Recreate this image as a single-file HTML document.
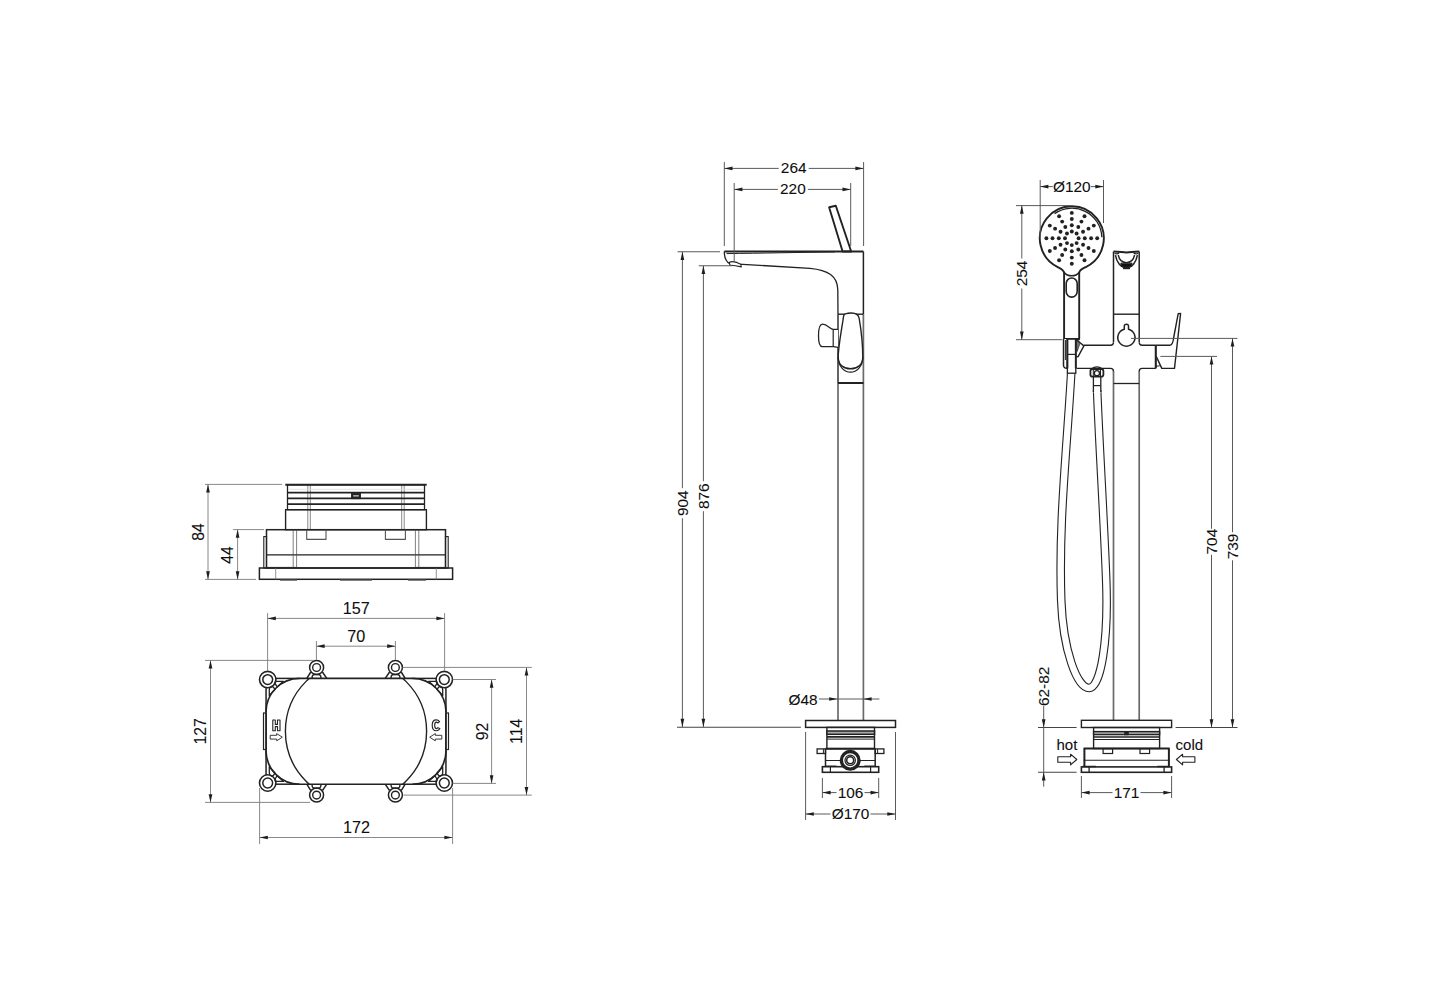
<!DOCTYPE html>
<html><head><meta charset="utf-8"><title>drawing</title>
<style>
html,body{margin:0;padding:0;background:#fff;}
body{width:1430px;height:1000px;overflow:hidden;}
svg{display:block;font-family:"Liberation Sans",sans-serif;}
</style></head>
<body>
<svg width="1430" height="1000" viewBox="0 0 1430 1000">
<rect x="0" y="0" width="1430" height="1000" fill="#fff"/>
<line x1="307.80" y1="485.00" x2="307.80" y2="529.70" stroke="#4a4a4a" stroke-width="0.65" />
<line x1="310.30" y1="485.00" x2="310.30" y2="529.70" stroke="#4a4a4a" stroke-width="0.65" />
<line x1="404.20" y1="485.00" x2="404.20" y2="529.70" stroke="#4a4a4a" stroke-width="0.65" />
<line x1="401.70" y1="485.00" x2="401.70" y2="529.70" stroke="#4a4a4a" stroke-width="0.65" />
<rect x="287.50" y="484.70" width="137.00" height="25.00" rx="0" fill="none" stroke="#222222" stroke-width="1.3"/>
<line x1="285.30" y1="484.70" x2="426.70" y2="484.70" stroke="#222222" stroke-width="2.0" />
<line x1="287.50" y1="492.60" x2="424.50" y2="492.60" stroke="#222222" stroke-width="1.8" />
<line x1="287.50" y1="498.40" x2="424.50" y2="498.40" stroke="#222222" stroke-width="1.8" />
<line x1="287.50" y1="504.20" x2="424.50" y2="504.20" stroke="#222222" stroke-width="1.8" />
<rect x="351.60" y="493.20" width="8.80" height="5.40" rx="0" fill="#222222" stroke="#222222" stroke-width="1.0"/>
<line x1="353.20" y1="495.90" x2="358.80" y2="495.90" stroke="#fff" stroke-width="1.0" />
<line x1="288.00" y1="489.30" x2="424.00" y2="489.30" stroke="#ddd" stroke-width="0.8" />
<rect x="285.60" y="509.70" width="140.80" height="20.00" rx="0" fill="none" stroke="#222222" stroke-width="1.4"/>
<rect x="266.50" y="529.70" width="179.00" height="38.30" rx="0" fill="none" stroke="#222222" stroke-width="1.5"/>
<line x1="266.50" y1="554.80" x2="445.50" y2="554.80" stroke="#222222" stroke-width="1.3" />
<line x1="293.20" y1="529.70" x2="293.20" y2="567.50" stroke="#4a4a4a" stroke-width="0.7" />
<line x1="296.60" y1="529.70" x2="296.60" y2="567.50" stroke="#4a4a4a" stroke-width="0.7" />
<line x1="418.80" y1="529.70" x2="418.80" y2="567.50" stroke="#4a4a4a" stroke-width="0.7" />
<line x1="415.40" y1="529.70" x2="415.40" y2="567.50" stroke="#4a4a4a" stroke-width="0.7" />
<rect x="263.80" y="536.60" width="2.70" height="31.40" rx="0" fill="none" stroke="#222222" stroke-width="1.1"/>
<rect x="445.50" y="536.60" width="2.70" height="31.40" rx="0" fill="none" stroke="#222222" stroke-width="1.1"/>
<line x1="266.50" y1="567.40" x2="296.60" y2="567.40" stroke="#444" stroke-width="1.0" />
<line x1="415.40" y1="567.40" x2="445.50" y2="567.40" stroke="#444" stroke-width="1.0" />
<path d="M306.7,529.7 L306.7,539.4 L326,539.4 L326,529.7" fill="none" stroke="#555" stroke-width="1.1" stroke-linejoin="round" />
<path d="M385.4,529.7 L385.4,539.4 L405.4,539.4 L405.4,529.7" fill="none" stroke="#555" stroke-width="1.1" stroke-linejoin="round" />
<rect x="259.40" y="568.00" width="193.20" height="11.30" rx="0" fill="none" stroke="#222222" stroke-width="1.5"/>
<line x1="275.70" y1="568.00" x2="275.70" y2="579.30" stroke="#777" stroke-width="0.8" />
<line x1="436.30" y1="568.00" x2="436.30" y2="579.30" stroke="#777" stroke-width="0.8" />
<line x1="280.00" y1="580.20" x2="297.00" y2="580.20" stroke="#666" stroke-width="1.2" />
<line x1="340.00" y1="580.20" x2="372.00" y2="580.20" stroke="#666" stroke-width="1.2" />
<line x1="408.00" y1="580.20" x2="426.00" y2="580.20" stroke="#666" stroke-width="1.2" />
<line x1="205.00" y1="484.40" x2="282.00" y2="484.40" stroke="#888888" stroke-width="1.0" />
<line x1="205.00" y1="579.40" x2="256.00" y2="579.40" stroke="#888888" stroke-width="1.0" />
<line x1="208.00" y1="484.40" x2="208.00" y2="579.40" stroke="#888888" stroke-width="1.0" />
<path d="M208.00,484.40 L209.85,492.60 L206.15,492.60 Z" fill="#1e1e1e"/>
<path d="M208.00,579.40 L206.15,571.20 L209.85,571.20 Z" fill="#1e1e1e"/>
<text x="0" y="0" transform="translate(198.30,532.00) rotate(-90)" text-anchor="middle" dominant-baseline="central" font-size="15.8" fill="#0e0e0e" stroke="#0e0e0e" stroke-width="0.08">84</text>
<line x1="233.00" y1="529.60" x2="264.00" y2="529.60" stroke="#888888" stroke-width="1.0" />
<line x1="237.60" y1="529.60" x2="237.60" y2="579.40" stroke="#888888" stroke-width="1.0" />
<path d="M237.60,529.60 L239.45,537.80 L235.75,537.80 Z" fill="#1e1e1e"/>
<path d="M237.60,579.40 L235.75,571.20 L239.45,571.20 Z" fill="#1e1e1e"/>
<text x="0" y="0" transform="translate(227.80,555.00) rotate(-90)" text-anchor="middle" dominant-baseline="central" font-size="15.8" fill="#0e0e0e" stroke="#0e0e0e" stroke-width="0.08">44</text>
<clipPath id="bodyclip"><rect x="260" y="678.4" width="200" height="105.80000000000007"/></clipPath>
<path d="M299.6,678.4 L412.4,678.4 A33.6,33.6 0 0 1 446,712.0 L446,750.6 A33.6,33.6 0 0 1 412.4,784.2 L299.6,784.2 A33.6,33.6 0 0 1 266,750.6 L266,712.0 A33.6,33.6 0 0 1 299.6,678.4 Z" fill="none" stroke="#222222" stroke-width="1.6" stroke-linejoin="round" />
<circle cx="356" cy="731.3" r="70.6" fill="none" stroke="#222222" stroke-width="1.4" clip-path="url(#bodyclip)"/>
<g id="clug"><path d="M436,678.4 L412.4,678.4" fill="none" stroke="#222222" stroke-width="1.5" stroke-linejoin="round"/><path d="M445.9,687.5 L446,712" fill="none" stroke="#222222" stroke-width="1.5" stroke-linejoin="round"/><circle cx="444.3" cy="679.6" r="8.2" fill="#fff" stroke="#222222" stroke-width="1.6"/><circle cx="444.3" cy="679.6" r="4.9" fill="none" stroke="#222222" stroke-width="1.5"/><path d="M428.5,681.3 L435.7,681.3 Q437.6,681.8 436.9,683.6 L434.8,686.9 Q431.5,683.8 428.5,681.3 Z" fill="none" stroke="#222222" stroke-width="1.3" stroke-linejoin="round"/><path d="M437.05,689.6 Q438.4,686.45 440.65,686.45 Q442.7,687.35 442.7,689.6 L442.7,695.9 Q440.2,692.4 437.05,689.6 Z" fill="none" stroke="#222222" stroke-width="1.3" stroke-linejoin="round"/></g>
<use href="#clug" transform="matrix(-1,0,0,1,712,0)"/>
<use href="#clug" transform="matrix(1,0,0,-1,0,1462.6)"/>
<use href="#clug" transform="matrix(-1,0,0,-1,712,1462.6)"/>
<g id="mlug"><path d="M389.6,672 L385.2,678.4 M401.2,672 L405.2,678.4" fill="none" stroke="#222222" stroke-width="1.5"/><circle cx="395.4" cy="667.5" r="7.0" fill="#fff" stroke="#222222" stroke-width="1.5"/><circle cx="395.4" cy="667.5" r="3.9" fill="none" stroke="#222222" stroke-width="1.4"/><path d="M391.2,678.4 Q390.5,674.6 394,674.5 L397.2,674.5 Q400.5,674.6 399.8,678.4" fill="none" stroke="#222222" stroke-width="1.4"/></g>
<use href="#mlug" transform="matrix(-1,0,0,1,712,0)"/>
<use href="#mlug" transform="matrix(1,0,0,-1,0,1462.6)"/>
<use href="#mlug" transform="matrix(-1,0,0,-1,712,1462.6)"/>
<rect x="263.50" y="713.00" width="2.80" height="36.50" rx="0" fill="none" stroke="#222222" stroke-width="1.2"/>
<rect x="445.70" y="713.00" width="2.80" height="36.50" rx="0" fill="none" stroke="#222222" stroke-width="1.2"/>
<path d="M272.8,720 L275.3,720 L275.3,724.4 L277.5,724.4 L277.5,720 L280,720 L280,730.8 L277.5,730.8 L277.5,726.6 L275.3,726.6 L275.3,730.8 L272.8,730.8 Z" fill="none" stroke="#222" stroke-width="1.1" stroke-linejoin="round" />
<path d="M439.6,721.6 C438.6,720.3 437.5,719.9 436.2,719.9 C433.3,719.9 432.2,722.6 432.2,725.3 C432.2,728.2 433.4,730.8 436.2,730.8 C437.7,730.8 438.9,730.2 439.9,728.8 L438,727.6 C437.6,728.3 437,728.6 436.3,728.6 C435.1,728.6 434.7,727 434.7,725.3 C434.7,723.6 435.1,722.1 436.3,722.1 C436.9,722.1 437.4,722.5 437.8,723 Z" fill="none" stroke="#222" stroke-width="1.1" stroke-linejoin="round" />
<path d="M270.20,735.30 L276.70,735.30 L276.70,733.60 L282.30,737.20 L276.70,740.80 L276.70,739.10 L270.20,739.10 Z" fill="none" stroke="#222" stroke-width="0.9" stroke-linejoin="round" />
<path d="M441.80,735.30 L435.30,735.30 L435.30,733.60 L429.70,737.20 L435.30,740.80 L435.30,739.10 L441.80,739.10 Z" fill="none" stroke="#222" stroke-width="0.9" stroke-linejoin="round" />
<line x1="267.60" y1="613.00" x2="267.60" y2="671.00" stroke="#888888" stroke-width="1.0" />
<line x1="444.60" y1="613.00" x2="444.60" y2="671.00" stroke="#888888" stroke-width="1.0" />
<line x1="267.60" y1="618.40" x2="444.60" y2="618.40" stroke="#888888" stroke-width="1.0" />
<path d="M267.60,618.40 L275.80,616.55 L275.80,620.25 Z" fill="#1e1e1e"/>
<path d="M444.60,618.40 L436.40,620.25 L436.40,616.55 Z" fill="#1e1e1e"/>
<text x="0" y="0" transform="translate(356.20,607.70)" text-anchor="middle" dominant-baseline="central" font-size="16.2" fill="#0e0e0e" stroke="#0e0e0e" stroke-width="0.08">157</text>
<line x1="316.40" y1="641.00" x2="316.40" y2="660.00" stroke="#888888" stroke-width="1.0" />
<line x1="395.40" y1="641.00" x2="395.40" y2="660.00" stroke="#888888" stroke-width="1.0" />
<line x1="316.40" y1="646.20" x2="395.40" y2="646.20" stroke="#888888" stroke-width="1.0" />
<path d="M316.40,646.20 L324.60,644.35 L324.60,648.05 Z" fill="#1e1e1e"/>
<path d="M395.40,646.20 L387.20,648.05 L387.20,644.35 Z" fill="#1e1e1e"/>
<text x="0" y="0" transform="translate(356.20,635.80)" text-anchor="middle" dominant-baseline="central" font-size="16.2" fill="#0e0e0e" stroke="#0e0e0e" stroke-width="0.08">70</text>
<line x1="205.00" y1="660.40" x2="314.00" y2="660.40" stroke="#888888" stroke-width="1.0" />
<line x1="205.00" y1="802.40" x2="310.00" y2="802.40" stroke="#888888" stroke-width="1.0" />
<line x1="210.50" y1="660.40" x2="210.50" y2="802.40" stroke="#888888" stroke-width="1.0" />
<path d="M210.50,660.40 L212.35,668.60 L208.65,668.60 Z" fill="#1e1e1e"/>
<path d="M210.50,802.40 L208.65,794.20 L212.35,794.20 Z" fill="#1e1e1e"/>
<text x="0" y="0" transform="translate(200.60,731.30) rotate(-90)" text-anchor="middle" dominant-baseline="central" font-size="15.8" fill="#0e0e0e" stroke="#0e0e0e" stroke-width="0.08">127</text>
<line x1="259.60" y1="788.00" x2="259.60" y2="844.00" stroke="#888888" stroke-width="1.0" />
<line x1="452.60" y1="788.00" x2="452.60" y2="844.00" stroke="#888888" stroke-width="1.0" />
<line x1="259.60" y1="837.50" x2="452.60" y2="837.50" stroke="#888888" stroke-width="1.0" />
<path d="M259.60,837.50 L267.80,835.65 L267.80,839.35 Z" fill="#1e1e1e"/>
<path d="M452.60,837.50 L444.40,839.35 L444.40,835.65 Z" fill="#1e1e1e"/>
<text x="0" y="0" transform="translate(356.50,826.70)" text-anchor="middle" dominant-baseline="central" font-size="16.2" fill="#0e0e0e" stroke="#0e0e0e" stroke-width="0.08">172</text>
<line x1="452.70" y1="679.50" x2="496.00" y2="679.50" stroke="#888888" stroke-width="1.0" />
<line x1="452.70" y1="783.40" x2="496.00" y2="783.40" stroke="#888888" stroke-width="1.0" />
<line x1="491.60" y1="679.50" x2="491.60" y2="783.40" stroke="#888888" stroke-width="1.0" />
<path d="M491.60,679.50 L493.45,687.70 L489.75,687.70 Z" fill="#1e1e1e"/>
<path d="M491.60,783.40 L489.75,775.20 L493.45,775.20 Z" fill="#1e1e1e"/>
<text x="0" y="0" transform="translate(482.00,731.40) rotate(-90)" text-anchor="middle" dominant-baseline="central" font-size="15.8" fill="#0e0e0e" stroke="#0e0e0e" stroke-width="0.08">92</text>
<line x1="402.60" y1="667.40" x2="531.80" y2="667.40" stroke="#888888" stroke-width="1.0" />
<line x1="403.40" y1="795.10" x2="531.80" y2="795.10" stroke="#888888" stroke-width="1.0" />
<line x1="526.50" y1="667.40" x2="526.50" y2="795.10" stroke="#888888" stroke-width="1.0" />
<path d="M526.50,667.40 L528.35,675.60 L524.65,675.60 Z" fill="#1e1e1e"/>
<path d="M526.50,795.10 L524.65,786.90 L528.35,786.90 Z" fill="#1e1e1e"/>
<text x="0" y="0" transform="translate(516.90,731.30) rotate(-90)" text-anchor="middle" dominant-baseline="central" font-size="15.8" fill="#0e0e0e" stroke="#0e0e0e" stroke-width="0.08">114</text>
<line x1="724.30" y1="251.50" x2="863.40" y2="251.50" stroke="#222222" stroke-width="2.1" />
<path d="M726.5,253.6 C760,253.2 800,252.4 835,251.9" fill="none" stroke="#222222" stroke-width="1.0" stroke-linejoin="round" />
<path d="M724.3,251.5 C724.3,257 725.5,261.5 729.8,263.6 L810,268.3 C828,270 837.6,276 837.8,290 L838,314.2" fill="none" stroke="#222222" stroke-width="1.3" stroke-linejoin="round" />
<path d="M729.3,262.3 C732,261.2 737,262 740.8,264.4 L741.3,266.9 C737,265.8 733,265.2 730,265.3 Z" fill="#fff" stroke="#222222" stroke-width="1.1" stroke-linejoin="round" />
<line x1="863.40" y1="251.50" x2="863.40" y2="314.20" stroke="#222222" stroke-width="1.5" />
<line x1="863.40" y1="314.20" x2="863.40" y2="720.40" stroke="#6a6a6a" stroke-width="1.7" />
<line x1="838.00" y1="383.00" x2="838.00" y2="720.40" stroke="#6a6a6a" stroke-width="1.7" />
<path d="M829.1,207.3 L835.8,205.8 L851.2,251.5 L842.6,251.5 Z" fill="none" stroke="#222222" stroke-width="1.9" stroke-linejoin="round" />
<line x1="838.00" y1="314.20" x2="863.40" y2="314.20" stroke="#222222" stroke-width="1.4" />
<line x1="838.00" y1="314.20" x2="838.00" y2="383.00" stroke="#222222" stroke-width="1.4" />
<path d="M838,329.4 L833.4,329.4 C830,329.2 827.5,324.2 822.6,324.2 C819.6,324.2 818.5,329.5 818.5,335.5 C818.5,342 819,346.6 822.2,346.6 L833.4,346.6 L838,347.4" fill="#fff" stroke="#222222" stroke-width="1.3" stroke-linejoin="round" />
<line x1="833.20" y1="329.50" x2="833.20" y2="346.40" stroke="#222222" stroke-width="1.2" />
<path d="M843.6,316 C842,328 838.2,346 838.2,357.5 C838.2,364.8 843.5,368.8 850.5,368.8 C857.5,368.8 862.8,364.8 862.8,357.5 C862.8,345 860.8,328 859.2,318.5 C858.6,314.6 856,313 851.4,313 C846.8,313 844,313.6 843.6,316 Z" fill="#fff" stroke="#222222" stroke-width="1.4" stroke-linejoin="round" />
<path d="M838.3,357 C838.3,367 844.5,372.2 850.5,372.2 C856.5,372.2 862.7,367 862.7,357" fill="none" stroke="#222222" stroke-width="1.2" stroke-linejoin="round" />
<line x1="838.00" y1="383.00" x2="863.40" y2="383.00" stroke="#222222" stroke-width="2.0" />
<rect x="805.60" y="720.50" width="89.90" height="6.90" rx="0" fill="none" stroke="#222222" stroke-width="1.5"/>
<rect x="826.90" y="727.40" width="47.60" height="21.20" rx="0" fill="none" stroke="#222222" stroke-width="1.4"/>
<rect x="826.90" y="731.00" width="47.60" height="3.30" rx="0" fill="#aaa" stroke="#222222" stroke-width="1.5"/>
<line x1="826.90" y1="736.80" x2="874.50" y2="736.80" stroke="#222222" stroke-width="1.7" />
<line x1="826.90" y1="739.10" x2="874.50" y2="739.10" stroke="#222222" stroke-width="1.0" />
<line x1="825.50" y1="748.80" x2="875.20" y2="748.80" stroke="#222222" stroke-width="2.0" />
<line x1="825.50" y1="748.60" x2="825.50" y2="766.70" stroke="#222222" stroke-width="1.5" />
<line x1="875.20" y1="748.60" x2="875.20" y2="766.70" stroke="#222222" stroke-width="1.5" />
<line x1="825.50" y1="760.50" x2="875.20" y2="760.50" stroke="#222222" stroke-width="1.0" />
<rect x="817.10" y="748.90" width="8.40" height="4.60" rx="0" fill="none" stroke="#222222" stroke-width="1.3"/>
<rect x="875.20" y="748.90" width="8.70" height="4.60" rx="0" fill="none" stroke="#222222" stroke-width="1.3"/>
<line x1="823.40" y1="748.90" x2="823.40" y2="753.50" stroke="#222222" stroke-width="1.0" />
<line x1="877.60" y1="748.90" x2="877.60" y2="753.50" stroke="#222222" stroke-width="1.0" />
<rect x="822.40" y="766.70" width="56.30" height="5.60" rx="0" fill="none" stroke="#222222" stroke-width="1.6"/>
<line x1="830.40" y1="766.70" x2="830.40" y2="772.30" stroke="#222222" stroke-width="1.2" />
<line x1="870.60" y1="766.70" x2="870.60" y2="772.30" stroke="#222222" stroke-width="1.2" />
<line x1="825.50" y1="766.20" x2="836.40" y2="766.20" stroke="#222222" stroke-width="1.3" />
<line x1="864.30" y1="766.20" x2="875.20" y2="766.20" stroke="#222222" stroke-width="1.3" />
<circle cx="850.20" cy="760.30" r="8.80" fill="#fff" stroke="#222222" stroke-width="3.4"/>
<circle cx="850.20" cy="760.30" r="5.20" fill="none" stroke="#222222" stroke-width="1.2"/>
<circle cx="850.20" cy="760.30" r="3.50" fill="none" stroke="#222222" stroke-width="1.6"/>
<line x1="724.30" y1="162.00" x2="724.30" y2="246.00" stroke="#5a5a5a" stroke-width="1.0" />
<line x1="863.60" y1="162.00" x2="863.60" y2="246.00" stroke="#5a5a5a" stroke-width="1.0" />
<line x1="724.30" y1="168.40" x2="863.60" y2="168.40" stroke="#5a5a5a" stroke-width="1.0" />
<path d="M724.30,168.40 L732.50,166.55 L732.50,170.25 Z" fill="#1e1e1e"/>
<path d="M863.60,168.40 L855.40,170.25 L855.40,166.55 Z" fill="#1e1e1e"/>
<rect x="778.70" y="161.50" width="30.00" height="13.00" fill="#fff"/>
<text x="0" y="0" transform="translate(793.70,167.60)" text-anchor="middle" dominant-baseline="central" font-size="15.4" fill="#0e0e0e" stroke="#0e0e0e" stroke-width="0.08">264</text>
<line x1="734.20" y1="183.00" x2="734.20" y2="262.00" stroke="#5a5a5a" stroke-width="1.0" />
<line x1="850.70" y1="183.00" x2="850.70" y2="246.00" stroke="#5a5a5a" stroke-width="1.0" />
<line x1="734.20" y1="189.40" x2="850.70" y2="189.40" stroke="#5a5a5a" stroke-width="1.0" />
<path d="M734.20,189.40 L742.40,187.55 L742.40,191.25 Z" fill="#1e1e1e"/>
<path d="M850.70,189.40 L842.50,191.25 L842.50,187.55 Z" fill="#1e1e1e"/>
<rect x="777.90" y="182.50" width="30.00" height="13.00" fill="#fff"/>
<text x="0" y="0" transform="translate(792.90,188.60)" text-anchor="middle" dominant-baseline="central" font-size="15.4" fill="#0e0e0e" stroke="#0e0e0e" stroke-width="0.08">220</text>
<line x1="677.50" y1="251.75" x2="720.00" y2="251.75" stroke="#5a5a5a" stroke-width="1.0" />
<line x1="682.40" y1="251.75" x2="682.40" y2="727.00" stroke="#5a5a5a" stroke-width="1.0" />
<path d="M682.40,251.75 L684.25,259.95 L680.55,259.95 Z" fill="#1e1e1e"/>
<path d="M682.40,727.00 L680.55,718.80 L684.25,718.80 Z" fill="#1e1e1e"/>
<rect x="675.40" y="488.20" width="14.00" height="30.00" fill="#fff"/>
<text x="0" y="0" transform="translate(682.00,503.20) rotate(-90)" text-anchor="middle" dominant-baseline="central" font-size="15.4" fill="#0e0e0e" stroke="#0e0e0e" stroke-width="0.08">904</text>
<line x1="698.75" y1="265.75" x2="732.50" y2="265.75" stroke="#5a5a5a" stroke-width="1.0" />
<line x1="703.40" y1="265.75" x2="703.40" y2="727.00" stroke="#5a5a5a" stroke-width="1.0" />
<path d="M703.40,265.75 L705.25,273.95 L701.55,273.95 Z" fill="#1e1e1e"/>
<path d="M703.40,727.00 L701.55,718.80 L705.25,718.80 Z" fill="#1e1e1e"/>
<rect x="696.40" y="481.20" width="14.00" height="30.00" fill="#fff"/>
<text x="0" y="0" transform="translate(703.00,496.20) rotate(-90)" text-anchor="middle" dominant-baseline="central" font-size="15.4" fill="#0e0e0e" stroke="#0e0e0e" stroke-width="0.08">876</text>
<line x1="677.00" y1="727.20" x2="800.90" y2="727.20" stroke="#444" stroke-width="1.1" />
<line x1="819.00" y1="699.00" x2="879.40" y2="699.00" stroke="#5a5a5a" stroke-width="1.0" />
<path d="M837.40,699.00 L829.20,700.85 L829.20,697.15 Z" fill="#1e1e1e"/>
<path d="M863.40,699.00 L871.60,697.15 L871.60,700.85 Z" fill="#1e1e1e"/>
<text x="0" y="0" transform="translate(817.50,699.30)" text-anchor="end" dominant-baseline="central" font-size="15.4" fill="#0e0e0e" stroke="#0e0e0e" stroke-width="0.08">Ø48</text>
<line x1="822.40" y1="778.00" x2="822.40" y2="798.00" stroke="#5a5a5a" stroke-width="1.0" />
<line x1="878.70" y1="778.00" x2="878.70" y2="798.00" stroke="#5a5a5a" stroke-width="1.0" />
<line x1="822.40" y1="792.60" x2="878.70" y2="792.60" stroke="#5a5a5a" stroke-width="1.0" />
<path d="M822.40,792.60 L830.60,790.75 L830.60,794.45 Z" fill="#1e1e1e"/>
<path d="M878.70,792.60 L870.50,794.45 L870.50,790.75 Z" fill="#1e1e1e"/>
<rect x="836.50" y="786.10" width="28.00" height="13.00" fill="#fff"/>
<text x="0" y="0" transform="translate(850.50,792.20)" text-anchor="middle" dominant-baseline="central" font-size="15.4" fill="#0e0e0e" stroke="#0e0e0e" stroke-width="0.08">106</text>
<line x1="805.60" y1="732.00" x2="805.60" y2="820.00" stroke="#5a5a5a" stroke-width="1.0" />
<line x1="895.50" y1="732.00" x2="895.50" y2="820.00" stroke="#5a5a5a" stroke-width="1.0" />
<line x1="805.60" y1="814.00" x2="895.50" y2="814.00" stroke="#5a5a5a" stroke-width="1.0" />
<path d="M805.60,814.00 L813.80,812.15 L813.80,815.85 Z" fill="#1e1e1e"/>
<path d="M895.50,814.00 L887.30,815.85 L887.30,812.15 Z" fill="#1e1e1e"/>
<rect x="830.50" y="807.50" width="40.00" height="13.00" fill="#fff"/>
<text x="0" y="0" transform="translate(850.50,813.60)" text-anchor="middle" dominant-baseline="central" font-size="15.4" fill="#0e0e0e" stroke="#0e0e0e" stroke-width="0.08">Ø170</text>
<line x1="1113.50" y1="251.60" x2="1113.50" y2="342.00" stroke="#222222" stroke-width="1.5" />
<line x1="1139.20" y1="251.60" x2="1139.20" y2="342.00" stroke="#222222" stroke-width="1.5" />
<line x1="1113.50" y1="371.30" x2="1113.50" y2="720.30" stroke="#6a6a6a" stroke-width="1.7" />
<line x1="1139.20" y1="371.30" x2="1139.20" y2="720.30" stroke="#6a6a6a" stroke-width="1.7" />
<path d="M1113.5,251.6 C1120,251.6 1122,252.4 1126.4,252.4 C1131,252.4 1133,251.6 1139.2,251.6" fill="none" stroke="#222222" stroke-width="2.0" stroke-linejoin="round" />
<path d="M1114.6,253.2 Q1116.6,254.6 1119.2,253.0 M1138.1,253.2 Q1136.1,254.6 1133.6,253.0" fill="none" stroke="#222222" stroke-width="1.1" stroke-linejoin="round" />
<path d="M1115.4,255.2 C1116.6,262 1120.5,267.6 1126.4,267.6 C1132.3,267.6 1136.2,262 1137.4,255.2" fill="none" stroke="#222222" stroke-width="1.5" stroke-linejoin="round" />
<path d="M1118.2,255.0 C1119.2,259.5 1121.8,262.6 1126.4,262.6 C1131,262.6 1133.6,259.5 1134.6,255.0" fill="none" stroke="#222222" stroke-width="1.4" stroke-linejoin="round" />
<path d="M1120.8,263.0 Q1126.4,264.2 1132.1,263.0 L1131.4,266.4 Q1126.4,267.6 1121.4,266.4 Z" fill="#111" stroke="#222222" stroke-width="0.8" stroke-linejoin="round" />
<line x1="1123.00" y1="268.60" x2="1130.00" y2="268.60" stroke="#222222" stroke-width="1.2" />
<line x1="1113.50" y1="314.20" x2="1139.20" y2="314.20" stroke="#222222" stroke-width="1.4" />
<line x1="1113.50" y1="383.50" x2="1139.20" y2="383.50" stroke="#222222" stroke-width="1.3" />
<path d="M1083.9,345.3 L1110.5,345.3 Q1113.5,345.3 1113.5,342.3" fill="none" stroke="#222222" stroke-width="1.4" stroke-linejoin="round" />
<path d="M1139.2,342.3 Q1139.2,345.3 1142.2,345.3 L1155.8,345.3" fill="none" stroke="#222222" stroke-width="1.4" stroke-linejoin="round" />
<path d="M1076.5,368.4 L1110.5,368.4 Q1113.5,368.4 1113.5,371.4" fill="none" stroke="#222222" stroke-width="1.4" stroke-linejoin="round" />
<path d="M1139.2,371.4 Q1139.2,368.4 1142.2,368.4 L1155.8,368.4" fill="none" stroke="#222222" stroke-width="1.4" stroke-linejoin="round" />
<path d="M1124.3,329.2 L1124.3,325.6 Q1124.6,324.2 1126.4,324.2 Q1128.2,324.2 1128.5,325.6 L1128.5,329.2 A8.6,8.6 0 1 1 1124.3,329.2 Z" fill="#fff" stroke="#222222" stroke-width="1.5" stroke-linejoin="round" />
<line x1="1155.80" y1="345.30" x2="1155.80" y2="368.40" stroke="#222222" stroke-width="2.1" />
<path d="M1155.8,345.3 L1169.5,345.3 C1172,345.3 1173.2,342 1173.6,338 L1178.2,313.6 L1180.6,313.4 L1174.5,368.4 L1161.8,368.4 L1156.2,356.4" fill="none" stroke="#222222" stroke-width="1.4" stroke-linejoin="round" />
<line x1="1156.00" y1="366.20" x2="1159.80" y2="365.80" stroke="#222222" stroke-width="1.0" />
<path d="M1064.1,339.1 L1064.1,273 C1064.1,270 1061.37,268.81 1057.77,267.06 A32.0,32.0 0 1 1 1085.83,267.06 C1082.23,268.81 1079.2,270 1079.2,273 L1079.2,339.1 Z" fill="#fff" stroke="#222222" stroke-width="1.9" stroke-linejoin="round" />
<path d="M1064.1,272.2 C1066,274.8 1068.5,275.8 1071.7,275.8 C1074.9,275.8 1077.3,274.8 1079.2,272.2" fill="none" stroke="#222222" stroke-width="1.5" stroke-linejoin="round" />
<path d="M1054.54,213.64 A30.1,30.1 0 0 1 1101.88,237.25" fill="none" stroke="#222222" stroke-width="1.3" stroke-linejoin="round" />
<line x1="1063.50" y1="339.10" x2="1079.70" y2="339.10" stroke="#222222" stroke-width="2.2" />
<rect x="1066.20" y="278.00" width="11.00" height="19.10" rx="5.5" fill="none" stroke="#222222" stroke-width="1.6"/>
<circle cx="1078.60" cy="238.30" r="1.95" fill="#222222"/>
<circle cx="1076.61" cy="243.11" r="1.95" fill="#222222"/>
<circle cx="1071.80" cy="245.10" r="1.95" fill="#222222"/>
<circle cx="1066.99" cy="243.11" r="1.95" fill="#222222"/>
<circle cx="1065.00" cy="238.30" r="1.95" fill="#222222"/>
<circle cx="1066.99" cy="233.49" r="1.95" fill="#222222"/>
<circle cx="1071.80" cy="231.50" r="1.95" fill="#222222"/>
<circle cx="1076.61" cy="233.49" r="1.95" fill="#222222"/>
<circle cx="1084.80" cy="238.30" r="1.95" fill="#222222"/>
<circle cx="1083.06" cy="244.80" r="1.95" fill="#222222"/>
<circle cx="1078.30" cy="249.56" r="1.95" fill="#222222"/>
<circle cx="1071.80" cy="251.30" r="1.95" fill="#222222"/>
<circle cx="1065.30" cy="249.56" r="1.95" fill="#222222"/>
<circle cx="1060.54" cy="244.80" r="1.95" fill="#222222"/>
<circle cx="1058.80" cy="238.30" r="1.95" fill="#222222"/>
<circle cx="1060.54" cy="231.80" r="1.95" fill="#222222"/>
<circle cx="1065.30" cy="227.04" r="1.95" fill="#222222"/>
<circle cx="1071.80" cy="225.30" r="1.95" fill="#222222"/>
<circle cx="1078.30" cy="227.04" r="1.95" fill="#222222"/>
<circle cx="1083.06" cy="231.80" r="1.95" fill="#222222"/>
<circle cx="1091.10" cy="238.30" r="1.95" fill="#222222"/>
<circle cx="1088.51" cy="247.95" r="1.95" fill="#222222"/>
<circle cx="1081.45" cy="255.01" r="1.95" fill="#222222"/>
<circle cx="1071.80" cy="257.60" r="1.95" fill="#222222"/>
<circle cx="1062.15" cy="255.01" r="1.95" fill="#222222"/>
<circle cx="1055.09" cy="247.95" r="1.95" fill="#222222"/>
<circle cx="1052.50" cy="238.30" r="1.95" fill="#222222"/>
<circle cx="1055.09" cy="228.65" r="1.95" fill="#222222"/>
<circle cx="1062.15" cy="221.59" r="1.95" fill="#222222"/>
<circle cx="1071.80" cy="219.00" r="1.95" fill="#222222"/>
<circle cx="1081.45" cy="221.59" r="1.95" fill="#222222"/>
<circle cx="1088.51" cy="228.65" r="1.95" fill="#222222"/>
<circle cx="1097.20" cy="238.30" r="1.95" fill="#222222"/>
<circle cx="1093.80" cy="251.00" r="1.95" fill="#222222"/>
<circle cx="1084.50" cy="260.30" r="1.95" fill="#222222"/>
<circle cx="1071.80" cy="263.70" r="1.95" fill="#222222"/>
<circle cx="1059.10" cy="260.30" r="1.95" fill="#222222"/>
<circle cx="1049.80" cy="251.00" r="1.95" fill="#222222"/>
<circle cx="1046.40" cy="238.30" r="1.95" fill="#222222"/>
<circle cx="1049.80" cy="225.60" r="1.95" fill="#222222"/>
<circle cx="1059.10" cy="216.30" r="1.95" fill="#222222"/>
<circle cx="1071.80" cy="212.90" r="1.95" fill="#222222"/>
<circle cx="1084.50" cy="216.30" r="1.95" fill="#222222"/>
<circle cx="1093.80" cy="225.60" r="1.95" fill="#222222"/>
<path d="M1071.5,368 C1067,450 1058.5,520 1061.2,600 C1063,650 1077,688 1089,688 C1101,688 1108.5,640 1106.2,580 C1104,520 1099.5,450 1097.1,390" fill="none" stroke="#222222" stroke-width="8.6" stroke-linejoin="round" />
<path d="M1071.5,368 C1067,450 1058.5,520 1061.2,600 C1063,650 1077,688 1089,688 C1101,688 1108.5,640 1106.2,580 C1104,520 1099.5,450 1097.1,390" fill="none" stroke="#fff" stroke-width="6.4" stroke-linejoin="round" />
<path d="M1063.5,339.1 L1063.5,365.5 Q1063.8,368.4 1067.4,368.4 L1067.4,339.1" fill="#fff" stroke="#222222" stroke-width="1.5" stroke-linejoin="round" />
<line x1="1065.40" y1="340.00" x2="1065.40" y2="360.00" stroke="#222222" stroke-width="1.0" />
<rect x="1067.40" y="339.10" width="8.40" height="34.10" rx="0" fill="#fff" stroke="#222222" stroke-width="1.3"/>
<line x1="1067.40" y1="354.40" x2="1075.80" y2="354.40" stroke="#222222" stroke-width="1.2" />
<line x1="1067.40" y1="339.10" x2="1067.40" y2="368.40" stroke="#222222" stroke-width="1.9" />
<path d="M1075.8,339.1 L1080.4,343 L1083.9,345.9 L1078.1,356.7 L1075.8,356.4 Z" fill="#fff" stroke="#222222" stroke-width="1.4" stroke-linejoin="round" />
<path d="M1076.3,340.5 L1080,343.5 L1077.2,351.5 Z" fill="#777" stroke="#222222" stroke-width="0.6" stroke-linejoin="round" />
<line x1="1075.80" y1="339.10" x2="1075.80" y2="368.40" stroke="#222222" stroke-width="1.9" />
<rect x="1093.4" y="376.5" width="7.4" height="16" fill="#fff"/>
<line x1="1093.40" y1="376.50" x2="1093.40" y2="392.00" stroke="#222222" stroke-width="1.3" />
<line x1="1100.80" y1="376.50" x2="1100.80" y2="392.00" stroke="#222222" stroke-width="1.3" />
<line x1="1093.40" y1="385.60" x2="1100.80" y2="385.60" stroke="#222222" stroke-width="1.2" />
<path d="M1091.2,369 Q1096.9,364.8 1102.6,369" fill="none" stroke="#222222" stroke-width="1.1" stroke-linejoin="round" />
<rect x="1090.40" y="369.00" width="13.00" height="7.60" rx="2.2" fill="#fff" stroke="#222222" stroke-width="1.8"/>
<circle cx="1096.90" cy="373.20" r="2.60" fill="none" stroke="#222222" stroke-width="1.4"/>
<line x1="1093.30" y1="369.50" x2="1093.30" y2="376.00" stroke="#222222" stroke-width="1.0" />
<line x1="1100.50" y1="369.50" x2="1100.50" y2="376.00" stroke="#222222" stroke-width="1.0" />
<rect x="1081.40" y="720.30" width="90.20" height="7.20" rx="0" fill="none" stroke="#222222" stroke-width="1.4"/>
<rect x="1093.60" y="727.50" width="66.00" height="21.00" rx="0" fill="none" stroke="#222222" stroke-width="1.4"/>
<rect x="1093.60" y="731.60" width="66.00" height="3.00" rx="0" fill="#aaa" stroke="#222222" stroke-width="1.4"/>
<line x1="1093.60" y1="737.00" x2="1159.60" y2="737.00" stroke="#222222" stroke-width="1.7" />
<line x1="1093.60" y1="739.50" x2="1159.60" y2="739.50" stroke="#222222" stroke-width="1.0" />
<rect x="1124.40" y="732.00" width="4.20" height="3.00" rx="0" fill="#222222" stroke="#222222" stroke-width="0.5"/>
<line x1="1083.60" y1="748.60" x2="1169.70" y2="748.60" stroke="#222222" stroke-width="2.0" />
<line x1="1084.40" y1="748.50" x2="1084.40" y2="766.90" stroke="#222222" stroke-width="2.0" />
<line x1="1168.90" y1="748.50" x2="1168.90" y2="766.90" stroke="#222222" stroke-width="2.0" />
<line x1="1083.60" y1="760.20" x2="1169.70" y2="760.20" stroke="#222222" stroke-width="1.1" />
<rect x="1103.10" y="748.60" width="9.50" height="4.90" rx="0" fill="none" stroke="#222222" stroke-width="1.2"/>
<rect x="1140.00" y="748.60" width="9.60" height="4.90" rx="0" fill="none" stroke="#222222" stroke-width="1.2"/>
<rect x="1081.40" y="766.90" width="90.20" height="5.40" rx="0" fill="none" stroke="#222222" stroke-width="1.6"/>
<line x1="1089.10" y1="766.90" x2="1089.10" y2="772.30" stroke="#222222" stroke-width="1.3" />
<line x1="1164.10" y1="766.90" x2="1164.10" y2="772.30" stroke="#222222" stroke-width="1.3" />
<line x1="1082.40" y1="766.50" x2="1095.90" y2="766.50" stroke="#222222" stroke-width="1.5" />
<line x1="1157.40" y1="766.50" x2="1169.70" y2="766.50" stroke="#222222" stroke-width="1.5" />
<text x="0" y="0" transform="translate(1056.50,744.70)" text-anchor="start" dominant-baseline="central" font-size="15.0" fill="#0e0e0e" stroke="#0e0e0e" stroke-width="0.08">hot</text>
<text x="0" y="0" transform="translate(1175.60,744.70)" text-anchor="start" dominant-baseline="central" font-size="15.0" fill="#0e0e0e" stroke="#0e0e0e" stroke-width="0.08">cold</text>
<path d="M1057.80,756.70 L1070.60,756.70 L1070.60,754.20 L1076.80,759.50 L1070.60,764.80 L1070.60,762.30 L1057.80,762.30 Z" fill="none" stroke="#222" stroke-width="1.1" stroke-linejoin="round" />
<path d="M1194.90,756.70 L1182.60,756.70 L1182.60,754.20 L1176.40,759.50 L1182.60,764.80 L1182.60,762.30 L1194.90,762.30 Z" fill="none" stroke="#222" stroke-width="1.1" stroke-linejoin="round" />
<line x1="1040.20" y1="180.00" x2="1040.20" y2="238.00" stroke="#5a5a5a" stroke-width="1.0" />
<line x1="1103.50" y1="180.00" x2="1103.50" y2="223.00" stroke="#5a5a5a" stroke-width="1.0" />
<line x1="1040.20" y1="186.60" x2="1103.50" y2="186.60" stroke="#5a5a5a" stroke-width="1.0" />
<path d="M1040.20,186.60 L1048.40,184.75 L1048.40,188.45 Z" fill="#1e1e1e"/>
<path d="M1103.50,186.60 L1095.30,188.45 L1095.30,184.75 Z" fill="#1e1e1e"/>
<rect x="1052.80" y="180.10" width="38.00" height="13.00" fill="#fff"/>
<text x="0" y="0" transform="translate(1071.80,186.20)" text-anchor="middle" dominant-baseline="central" font-size="15.4" fill="#0e0e0e" stroke="#0e0e0e" stroke-width="0.08">Ø120</text>
<line x1="1016.00" y1="205.60" x2="1071.00" y2="205.60" stroke="#5a5a5a" stroke-width="1.0" />
<line x1="1016.00" y1="339.70" x2="1062.00" y2="339.70" stroke="#5a5a5a" stroke-width="1.0" />
<line x1="1021.80" y1="205.60" x2="1021.80" y2="339.70" stroke="#5a5a5a" stroke-width="1.0" />
<path d="M1021.80,205.60 L1023.65,213.80 L1019.95,213.80 Z" fill="#1e1e1e"/>
<path d="M1021.80,339.70 L1019.95,331.50 L1023.65,331.50 Z" fill="#1e1e1e"/>
<rect x="1014.80" y="258.50" width="14.00" height="30.00" fill="#fff"/>
<text x="0" y="0" transform="translate(1021.40,273.50) rotate(-90)" text-anchor="middle" dominant-baseline="central" font-size="15.4" fill="#0e0e0e" stroke="#0e0e0e" stroke-width="0.08">254</text>
<line x1="1131.00" y1="338.40" x2="1237.40" y2="338.40" stroke="#5a5a5a" stroke-width="1.0" />
<line x1="1175.60" y1="727.50" x2="1237.50" y2="727.50" stroke="#444" stroke-width="1.1" />
<line x1="1232.50" y1="338.40" x2="1232.50" y2="727.50" stroke="#5a5a5a" stroke-width="1.0" />
<path d="M1232.50,338.40 L1234.35,346.60 L1230.65,346.60 Z" fill="#1e1e1e"/>
<path d="M1232.50,727.50 L1230.65,719.30 L1234.35,719.30 Z" fill="#1e1e1e"/>
<rect x="1225.50" y="532.30" width="14.00" height="28.00" fill="#fff"/>
<text x="0" y="0" transform="translate(1232.10,546.50) rotate(-90)" text-anchor="middle" dominant-baseline="central" font-size="15.4" fill="#0e0e0e" stroke="#0e0e0e" stroke-width="0.08">739</text>
<line x1="1160.40" y1="356.40" x2="1217.00" y2="356.40" stroke="#5a5a5a" stroke-width="1.0" />
<line x1="1211.50" y1="356.40" x2="1211.50" y2="727.50" stroke="#5a5a5a" stroke-width="1.0" />
<path d="M1211.50,356.40 L1213.35,364.60 L1209.65,364.60 Z" fill="#1e1e1e"/>
<path d="M1211.50,727.50 L1209.65,719.30 L1213.35,719.30 Z" fill="#1e1e1e"/>
<rect x="1204.50" y="528.80" width="14.00" height="26.00" fill="#fff"/>
<text x="0" y="0" transform="translate(1211.10,541.60) rotate(-90)" text-anchor="middle" dominant-baseline="central" font-size="15.4" fill="#0e0e0e" stroke="#0e0e0e" stroke-width="0.08">704</text>
<line x1="1038.00" y1="727.50" x2="1076.60" y2="727.50" stroke="#444" stroke-width="1.1" />
<line x1="1038.00" y1="772.20" x2="1076.60" y2="772.20" stroke="#444" stroke-width="1.1" />
<line x1="1043.70" y1="706.00" x2="1043.70" y2="786.70" stroke="#5a5a5a" stroke-width="1.0" />
<path d="M1043.70,727.50 L1041.85,719.30 L1045.55,719.30 Z" fill="#1e1e1e"/>
<path d="M1043.70,772.20 L1045.55,780.40 L1041.85,780.40 Z" fill="#1e1e1e"/>
<text x="0" y="0" transform="translate(1043.40,686.40) rotate(-90)" text-anchor="middle" dominant-baseline="central" font-size="15.4" fill="#0e0e0e" stroke="#0e0e0e" stroke-width="0.08">62-82</text>
<line x1="1081.40" y1="776.00" x2="1081.40" y2="798.00" stroke="#5a5a5a" stroke-width="1.0" />
<line x1="1171.60" y1="776.00" x2="1171.60" y2="798.00" stroke="#5a5a5a" stroke-width="1.0" />
<line x1="1081.40" y1="792.60" x2="1171.60" y2="792.60" stroke="#5a5a5a" stroke-width="1.0" />
<path d="M1081.40,792.60 L1089.60,790.75 L1089.60,794.45 Z" fill="#1e1e1e"/>
<path d="M1171.60,792.60 L1163.40,794.45 L1163.40,790.75 Z" fill="#1e1e1e"/>
<rect x="1112.50" y="786.10" width="28.00" height="13.00" fill="#fff"/>
<text x="0" y="0" transform="translate(1126.50,792.20)" text-anchor="middle" dominant-baseline="central" font-size="15.4" fill="#0e0e0e" stroke="#0e0e0e" stroke-width="0.08">171</text>
</svg>
</body></html>
